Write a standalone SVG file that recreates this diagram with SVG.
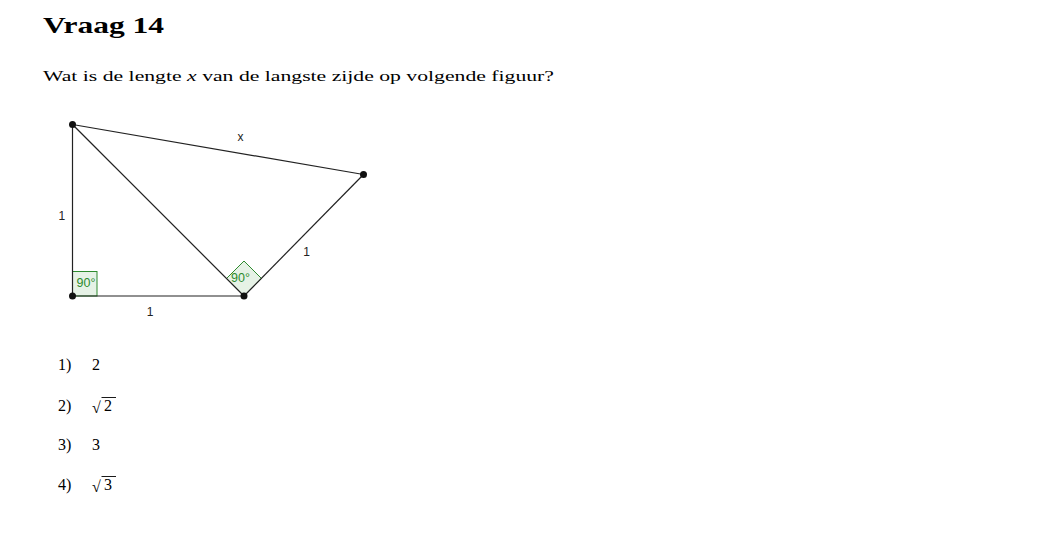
<svg xmlns="http://www.w3.org/2000/svg" width="1050" height="534" viewBox="0 0 1050 534">
<style>
.t{font-family:"Liberation Serif","DejaVu Serif",serif;fill:#000}
.o{font-family:"Liberation Serif","DejaVu Serif",serif;fill:#000;font-size:16px}
.g{font-family:"Liberation Sans","DejaVu Sans",sans-serif;font-size:12px;fill:#222}
.ang{fill:#e6f2e6;stroke:#2e8b2e;stroke-width:1}
.angt{font-family:"Liberation Sans","DejaVu Sans",sans-serif;font-size:12.5px;fill:#2e8b2e}
.seg{stroke:#222;stroke-width:1.2;fill:none}
.pt{fill:#111}
.bar{stroke:#000;stroke-width:0.9}
</style>
<rect width="1050" height="534" fill="#fff"/>
<text class="t" x="43" y="33" font-size="24" font-weight="bold" textLength="121" lengthAdjust="spacingAndGlyphs">Vraag 14</text>
<text class="t" x="43" y="81" font-size="15" textLength="511" lengthAdjust="spacingAndGlyphs">Wat is de lengte <tspan font-style="italic">x</tspan> van de langste zijde op volgende figuur?</text>

<g id="angles">
<rect class="ang" x="72.5" y="271.5" width="24.5" height="24.5"/>
<text class="angt" x="76.5" y="287">90°</text>
<polygon class="ang" points="244,296 226.5,278.5 244,261 261.5,278.5"/>
<text class="angt" x="231" y="282">90°</text>
</g>
<g id="connectors">
<line class="seg" x1="72.5" y1="124.5" x2="72.5" y2="296"/>
<line class="seg" x1="72.5" y1="296" x2="244" y2="296"/>
<line class="seg" x1="72.5" y1="124.5" x2="244" y2="296"/>
<line class="seg" x1="244" y1="296" x2="363.5" y2="174.5"/>
<line class="seg" x1="72.5" y1="124.5" x2="363.5" y2="174.5"/>
</g>
<g id="A"><circle class="pt" cx="72.5" cy="124.5" r="3.5"/></g>
<g id="B"><circle class="pt" cx="72.5" cy="296" r="3.5"/></g>
<g id="C"><circle class="pt" cx="244" cy="296" r="3.5"/></g>
<g id="D"><circle class="pt" cx="363.5" cy="174.5" r="3.5"/></g>
<g id="labels">
<text class="g" x="237.5" y="141">x</text>
<text class="g" x="58.5" y="219.5">1</text>
<text class="g" x="146.7" y="316">1</text>
<text class="g" x="303.3" y="256">1</text>
</g>

<g id="options">
<text class="o" x="58" y="370">1)</text>
<text class="o" x="92" y="370">2</text>
<text class="o" x="58" y="411">2)</text>
<text class="o" x="92" y="413" font-size="19">√</text>
<line class="bar" x1="101.5" y1="397.5" x2="116" y2="397.5"/>
<text class="o" x="104" y="411">2</text>
<text class="o" x="58" y="450">3)</text>
<text class="o" x="92" y="450">3</text>
<text class="o" x="58" y="490">4)</text>
<text class="o" x="92" y="492" font-size="19">√</text>
<line class="bar" x1="101.5" y1="476.5" x2="116" y2="476.5"/>
<text class="o" x="104" y="490">3</text>
</g>
</svg>
